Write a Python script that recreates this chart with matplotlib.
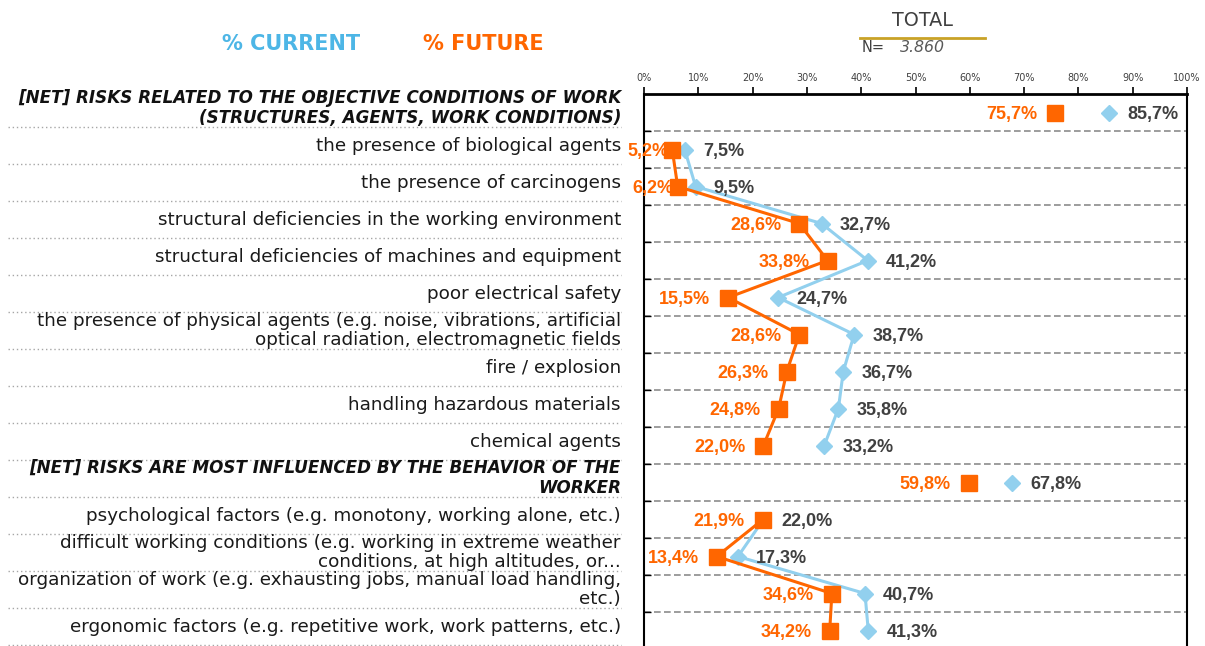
import matplotlib
matplotlib.use("Agg")
import matplotlib.pyplot as plt
import matplotlib.transforms as mtransforms
from matplotlib.ticker import FuncFormatter

# Categories (top to bottom)
categories = [
    "[NET] RISKS RELATED TO THE OBJECTIVE CONDITIONS OF WORK\n(STRUCTURES, AGENTS, WORK CONDITIONS)",
    "the presence of biological agents",
    "the presence of carcinogens",
    "structural deficiencies in the working environment",
    "structural deficiencies of machines and equipment",
    "poor electrical safety",
    "the presence of physical agents (e.g. noise, vibrations, artificial\noptical radiation, electromagnetic fields",
    "fire / explosion",
    "handling hazardous materials",
    "chemical agents",
    "[NET] RISKS ARE MOST INFLUENCED BY THE BEHAVIOR OF THE\nWORKER",
    "psychological factors (e.g. monotony, working alone, etc.)",
    "difficult working conditions (e.g. working in extreme weather\nconditions, at high altitudes, or...",
    "organization of work (e.g. exhausting jobs, manual load handling,\netc.)",
    "ergonomic factors (e.g. repetitive work, work patterns, etc.)",
]
is_net = [True] + [False] * 9 + [True] + [False] * 4

current = [85.7, 7.5, 9.5, 32.7, 41.2, 24.7, 38.7, 36.7, 35.8, 33.2, 67.8, 22.0, 17.3, 40.7, 41.3]
future = [75.7, 5.2, 6.2, 28.6, 33.8, 15.5, 28.6, 26.3, 24.8, 22.0, 59.8, 21.9, 13.4, 34.6, 34.2]

# groups of rows joined by a line
groups = [list(range(1, 10)), list(range(11, 15))]

xticks = list(range(0, 101, 10))

BLUE = "#92d0ee"
ORANGE = "#ff6600"
DARK = "#404040"

W, H = 1205, 646
fig = plt.figure(figsize=(W / 100, H / 100), dpi=100)
ax = fig.add_axes([644 / W, -3 / H, 543 / W, 555 / H])

n = len(categories)
ax.set_xlim(0, 100)
ax.set_ylim(n - 0.5, -0.5)

# Dashed separators and small ticks on the left border
bounds = [i + 0.5 for i in range(n - 1)]
for b in bounds:
    ax.axhline(b, color="#8c8c8c", ls=(0, (4, 2)), lw=1.2, zorder=1)
ax.set_yticks(bounds)
ax.tick_params(axis="y", direction="in", length=5, width=1, labelleft=False)

# Lines and markers
for g in groups:
    ax.plot([current[i] for i in g], g, color=BLUE, lw=2.2, zorder=2)
for i in range(n):
    ax.plot(current[i], i, marker="D", ms=8, color=BLUE, mec=BLUE, zorder=3)
for g in groups:
    ax.plot([future[i] for i in g], g, color=ORANGE, lw=2.2, zorder=4)
for i in range(n):
    ax.plot(future[i], i, marker="s", ms=11, color=ORANGE, mec=ORANGE, zorder=5)


def fmt(v):
    return f"{v:.1f}".replace(".", ",") + "%"


for i in range(n):
    ax.annotate(fmt(current[i]), (current[i], i), xytext=(13, -1.2),
                textcoords="offset points", ha="left", va="center",
                fontsize=13, fontweight="bold", family="Liberation Sans",
                color=DARK, zorder=6, annotation_clip=False)
    off = -13 if future[i] >= 10 else -3
    ax.annotate(fmt(future[i]), (future[i], i), xytext=(off, -1.2),
                textcoords="offset points", ha="right", va="center",
                fontsize=13, fontweight="bold", family="Liberation Sans",
                color=ORANGE, zorder=4.5, annotation_clip=False)

# Top axis
ax.xaxis.tick_top()
ax.set_xticks(xticks)
ax.xaxis.set_major_formatter(FuncFormatter(lambda v, p: f"{v:.0f}%"))
ax.tick_params(axis="x", direction="out", length=5, width=1.2, labelsize=7,
               labelcolor=DARK, pad=3)
ax.spines["bottom"].set_visible(False)
ax.spines["top"].set_linewidth(2)
ax.spines["left"].set_linewidth(1.5)
ax.spines["right"].set_linewidth(1.5)

# Category labels with dotted leader lines
trans = mtransforms.blended_transform_factory(fig.transFigure, ax.transData)
for i, lab in enumerate(categories):
    if is_net[i]:
        ax.text(621 / W, i - 0.12, lab, transform=trans, ha="right", va="center",
                multialignment="right", fontsize=12.1, color="#111111",
                fontweight="bold", fontstyle="italic", linespacing=1.17)
    else:
        ax.text(621 / W, i - 0.1, lab, transform=trans, ha="right", va="center",
                multialignment="right", fontsize=13.2, color="#1a1a1a",
                linespacing=1.07)
    ax.plot([8 / W, 621 / W], [i + 0.4, i + 0.4], transform=trans,
            color="#a6a6a6", ls=(0, (1, 2)), lw=1, clip_on=False)

# Header
fig.text(291 / W, 1 - 44 / H, "% CURRENT", color="#4db6e6", fontsize=15,
         fontweight="bold", ha="center", va="center")
fig.text(483 / W, 1 - 44 / H, "% FUTURE", color=ORANGE, fontsize=15,
         fontweight="bold", ha="center", va="center")
fig.text(922 / W, 1 - 21 / H, "TOTAL", color=DARK, fontsize=13.8,
         ha="center", va="center")
fig.add_artist(plt.Line2D([860 / W, 985 / W], [1 - 38 / H, 1 - 38 / H],
                          color="#c9a227", lw=2))
fig.text(862 / W, 1 - 48 / H, "N=", color=DARK, fontsize=10.5,
         ha="left", va="center")
fig.text(900 / W, 1 - 48 / H, "3.860", color="#595959", fontsize=11.3,
         fontstyle="italic", ha="left", va="center")

fig.savefig("out.png", dpi=100)
